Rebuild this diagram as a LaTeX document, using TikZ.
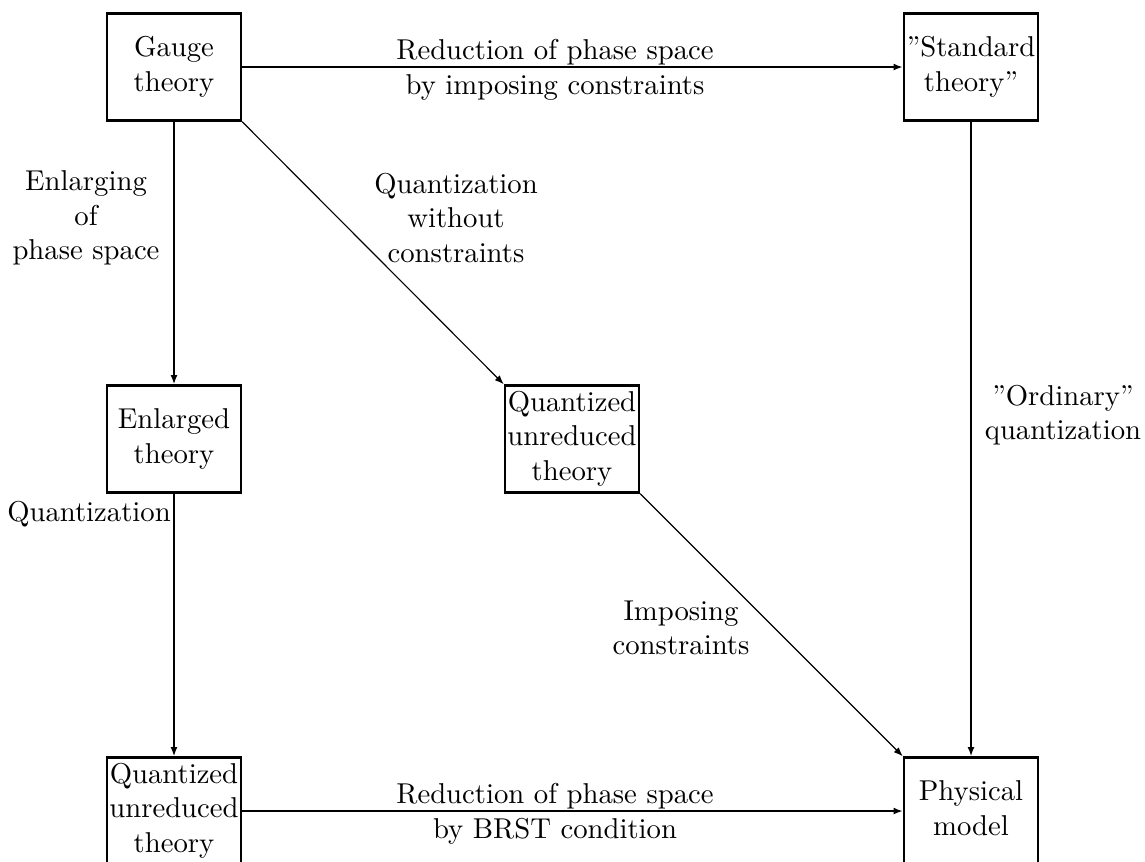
\documentclass[tikz,border=0pt]{standalone}
\usetikzlibrary{arrows.meta}
\newcommand{\boxtext}[1]{\makebox[0pt]{\begin{tabular}{@{}c@{}}#1\end{tabular}}}
\begin{document}
\begin{tikzpicture}[x=0.3484pt,y=-0.3484pt,
  box/.style={draw,line width=0.8pt,minimum width=46.7pt,minimum height=37.3pt,inner sep=0pt},
  lbl/.style={align=center,inner sep=0pt},
  harrow/.style={line width=0.8pt,-{Latex[length=3.2pt,width=2.4pt]}},
  varrow/.style={line width=0.6pt,-{Latex[length=3.2pt,width=2.4pt]}},
  darrow/.style={line width=0.4pt,-{Latex[length=3.2pt,width=2.4pt]}}]
  \useasboundingbox (0,0) rectangle (1145,861);
  % boxes
  \node[box] (gauge) at (174,67) {\boxtext{Gauge\\theory}};
  \node[box] (standard) at (971,67)
    {\boxtext{\textquotedblright Standard\\theory\textquotedblright}};
  \node[box] (enlarged) at (174,439) {\boxtext{Enlarged\\theory}};
  \node[box] (quantmid) at (572,439) {\boxtext{Quantized\\unreduced\\theory}};
  \node[box] (quantbot) at (174,811) {\boxtext{Quantized\\unreduced\\theory}};
  \node[box] (physical) at (971,811) {\boxtext{Physical\\model}};
  % arrows
  \draw[harrow] (gauge) -- (standard);
  \draw[varrow] (gauge) -- (enlarged);
  \draw[darrow] (gauge.south east) -- (quantmid.north west);
  \draw[varrow] (standard) -- (physical);
  \draw[varrow] (enlarged) -- (quantbot);
  \draw[darrow] (quantmid.south east) -- (physical.north west);
  \draw[harrow] (quantbot) -- (physical);
  % labels
  \node[lbl] (redtop) at (555,70)
    {Reduction of phase space\\by imposing constraints};
  \node[lbl] (enlarging) at (86,218) {Enlarging\\of\\phase space};
  \node[lbl] (withoutc) at (456,218) {Quantization\\without\\constraints};
  \node[lbl] (quantize) at (89,514) {Quantization};
  \node[lbl] (ordinary) at (1063,415)
    {\textquotedblright Ordinary\textquotedblright\\quantization};
  \node[lbl] (imposing) at (681,628) {Imposing\\constraints};
  \node[lbl] (redbot) at (555,814)
    {Reduction of phase space\\by BRST condition};
\end{tikzpicture}
\end{document}
